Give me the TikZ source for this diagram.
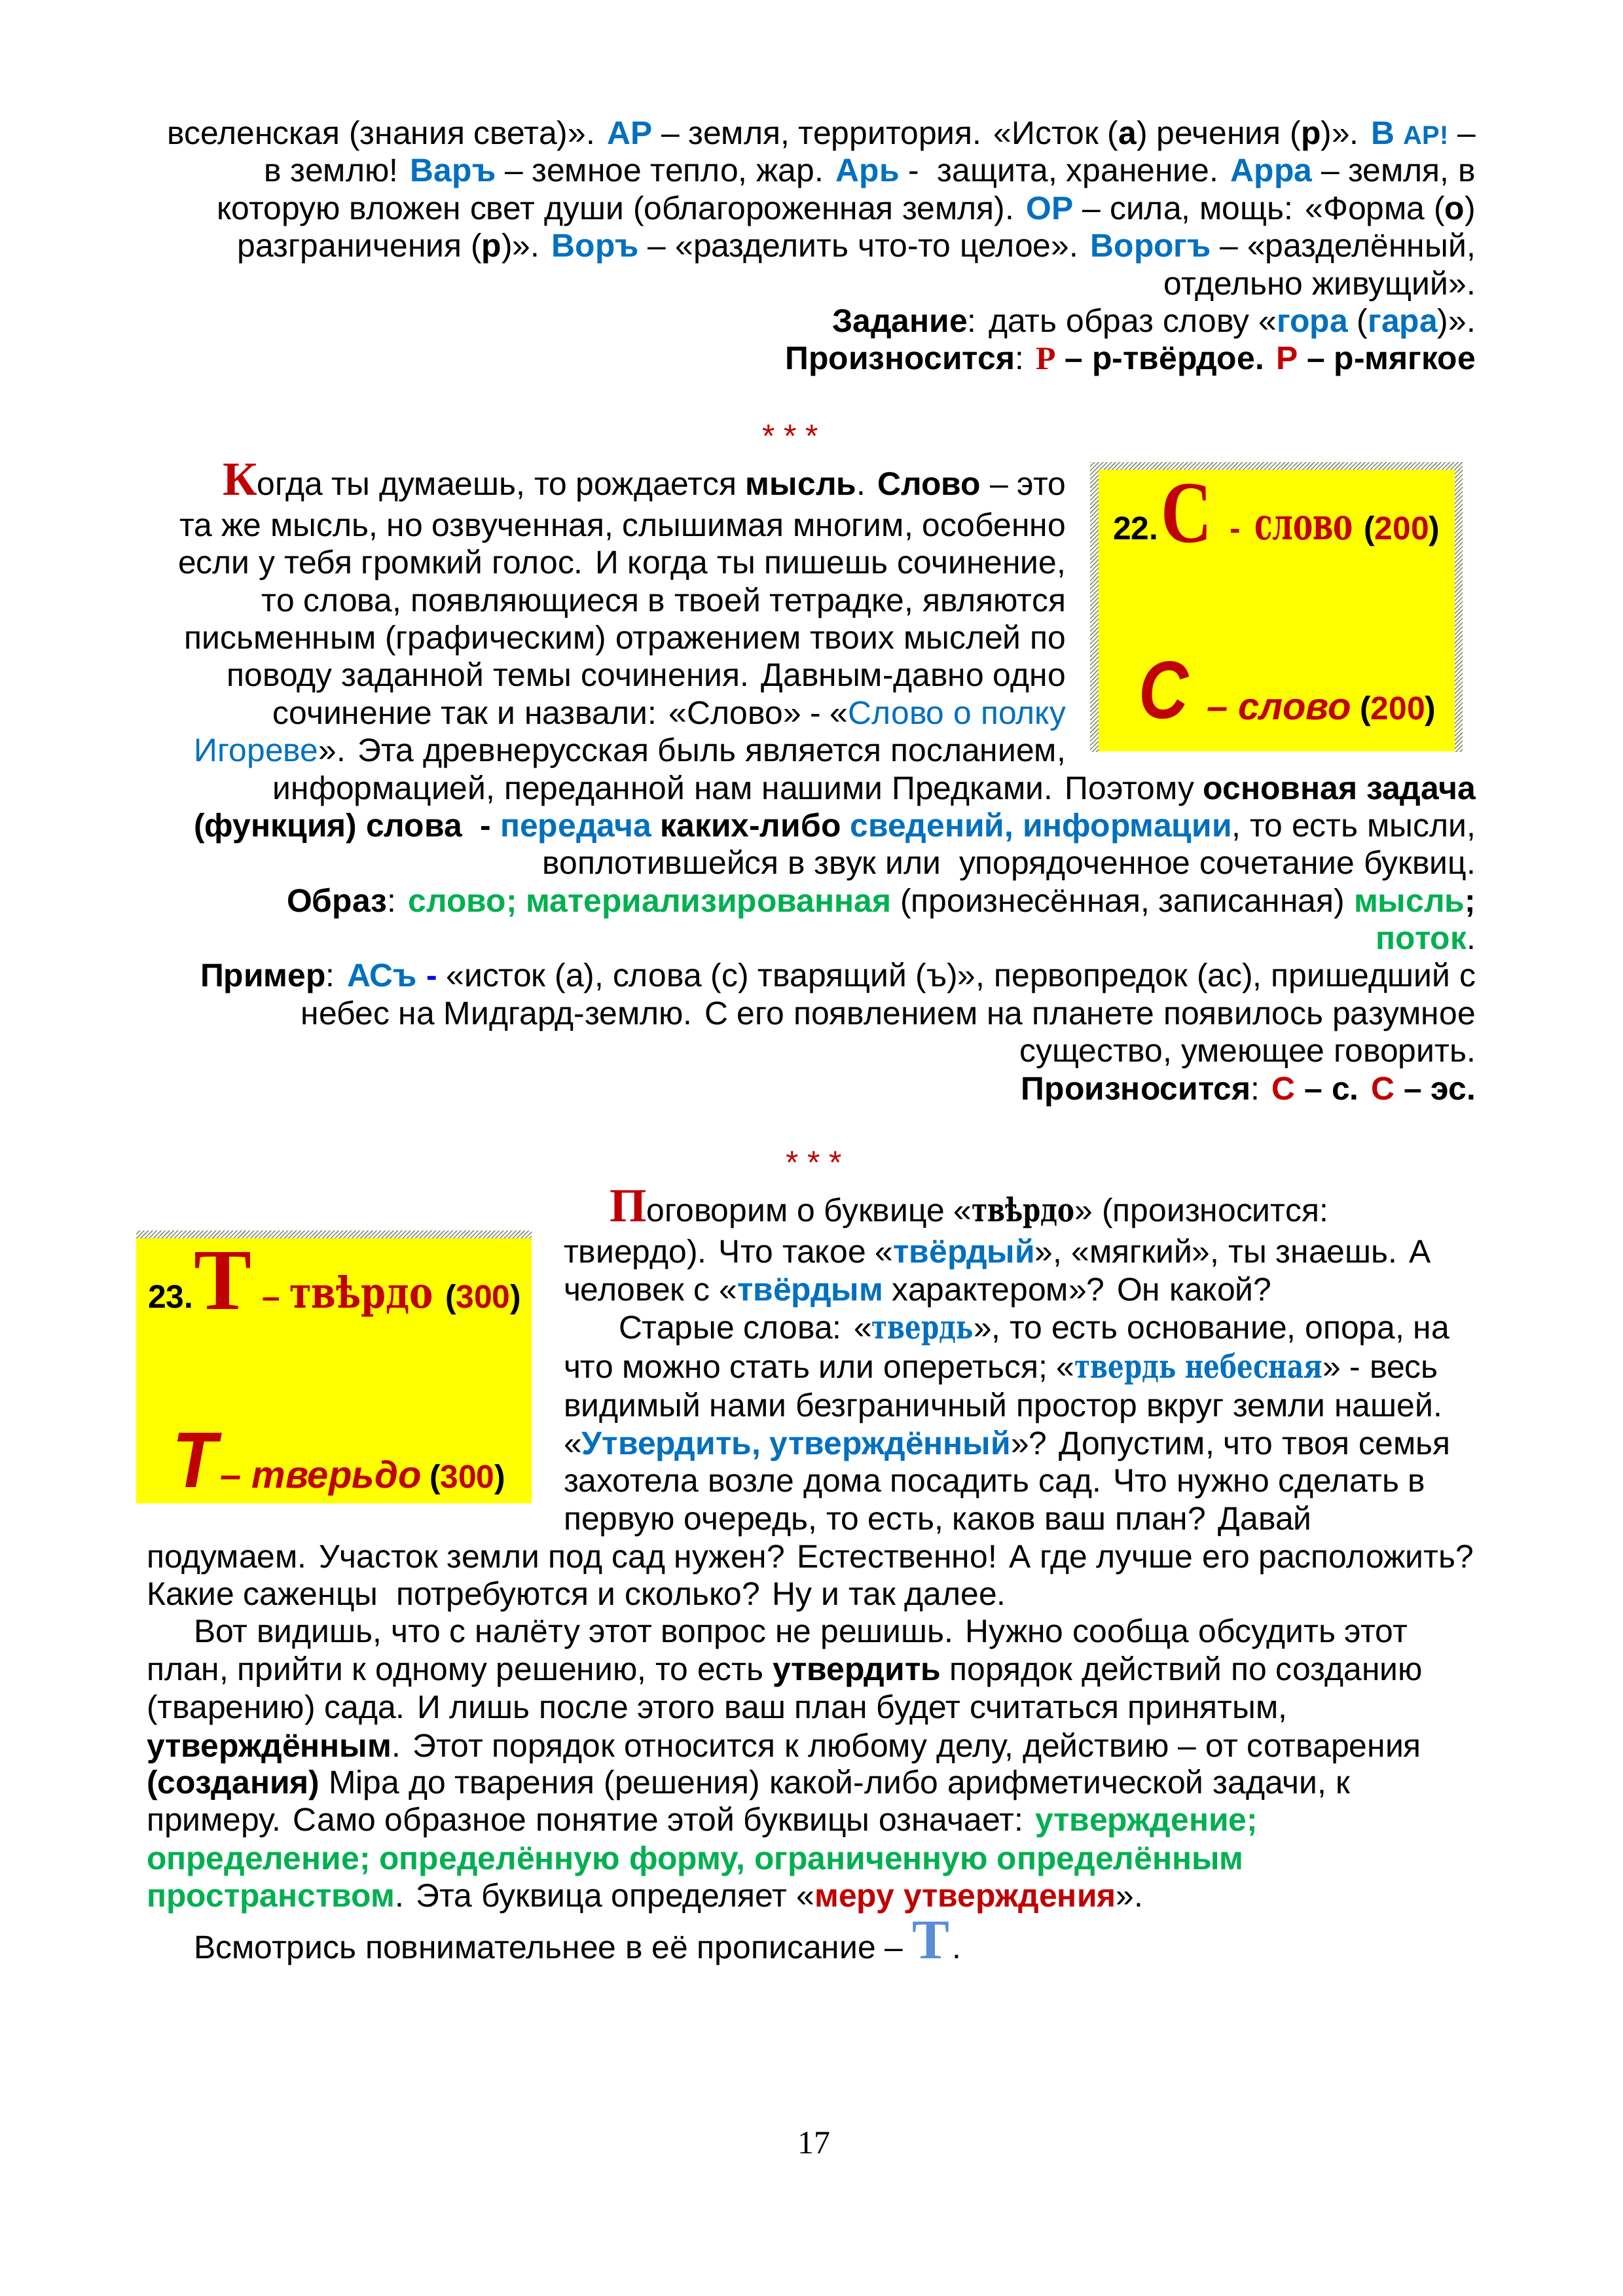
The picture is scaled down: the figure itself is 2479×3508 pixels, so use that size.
\documentclass[tikz,border=0pt]{standalone}
\usepackage{fontspec}
\setmainfont{Liberation Sans}
\newfontfamily\lserif{Liberation Serif}
\newfontfamily\dserif{DejaVu Serif}
\usepackage{graphicx}
\usetikzlibrary{patterns.meta}
\definecolor{myblue}{HTML}{0070C0}
\definecolor{myred}{HTML}{C00000}
\definecolor{mygreen}{HTML}{00B050}
\definecolor{pureblue}{HTML}{0000FF}
\definecolor{lblue}{HTML}{5B8DD6}
\definecolor{hatchc}{HTML}{7E8C62}
\definecolor{myyellow}{HTML}{FFFF00}
\newlength\pxu
\setlength\pxu{0.0846667mm}
\newcommand\myB[1]{\textcolor{myblue}{\bfseries #1}}
\newcommand\myBn[1]{\textcolor{myblue}{#1}}
\newcommand\myG[1]{\textcolor{mygreen}{\bfseries #1}}
\newcommand\myR[1]{\textcolor{myred}{\bfseries #1}}
\newcommand\mySl[1]{\scalebox{0.78}[1]{\dserif\bfseries #1}}
\newcommand\myFit[3]{\resizebox{#1\pxu}{#2\pxu}{#3}}
\tikzset{
  every node/.style={inner sep=0pt,outer sep=0pt,font=\fontsize{12pt}{13.8pt}\selectfont},
  R/.style={anchor=base east},
  L/.style={anchor=base west},
  hatch/.style={pattern={Lines[angle=45,distance=1.1pt,line width=0.35pt]},pattern color=hatchc},
  ybox/.style={fill=myyellow},
  dropcap/.style={text=myred,font={\lserif\bfseries\fontsize{17.5pt}{18pt}\selectfont}},
  stars/.style={text=myred,anchor=base},
}
\begin{document}
\begin{tikzpicture}[x=0.0846667mm,y=-0.0846667mm]
\useasboundingbox (0,0) rectangle (2479,3508);
\fill[white] (0,0) rectangle (2479,3508);

% ---------- section 1 ----------
\node[R] (a1) at (2254,220) {вселенская (знания света)». \myB{АР} – земля, территория. «Исток (\textbf{а}) речения (\textbf{р})». \myB{В {\fontsize{9.6pt}{10pt}\selectfont АР!}} –};
\node[R] (a2) at (2254,277) {в землю! \myB{Варъ} – земное тепло, жар. \myB{Арь} -\ \ защита, хранение. \myB{Арра} – земля, в};
\node[R] (a3) at (2254,335) {которую вложен свет души (облагороженная земля). \myB{ОР} – сила, мощь: «Форма (\textbf{о})};
\node[R] (a4) at (2254,392) {разграничения (\textbf{р})». \myB{Воръ} – «разделить что-то целое». \myB{Ворогъ} – «разделённый,};
\node[R] (a5) at (2254,450) {отдельно живущий».};
\node[R] (a6) at (2254,507) {\textbf{Задание}: дать образ слову «\myB{гора} (\myB{гара})».};
\node[R] (a7) at (2254,564) {\bfseries Произносится\mdseries: \bfseries\textcolor{myred}{\lserif\bfseries Р} – р-твёрдое. \textcolor{myred}{Р} – р-мягкое};

\node[stars] (st1) at (1207,683) {* * *};

% ---------- box 22 ----------
\fill[hatch] (1665,706) rectangle (2234,718);
\fill[hatch] (1665,718) rectangle (1678,1148);
\fill[hatch] (2222,718) rectangle (2234,1148);
\node[ybox,minimum width=544\pxu,minimum height=430\pxu,anchor=north west] (box1) at (1678,718) {};
\node[L,font=\fontsize{12pt}{13.8pt}\selectfont\bfseries] (n22) at (1700,824) {22.};
\node[L,text=myred] (bigS1) at (1773,828) {\myFit{78}{89}{\lserif\bfseries С}};
\node[L,text=myred,font=\fontsize{12pt}{13.8pt}\selectfont\bfseries] (d1) at (1878,824) {-};
\node[L,text=myred] (slovo1) at (1916,824) {\myFit{151}{36}{\dserif\bfseries слово}};
\node[L,font=\fontsize{12pt}{13.8pt}\selectfont\bfseries] (n200a) at (2083,824) {(\textcolor{myred}{200})};
\node[L,text=myred] (bigS2) at (1739,1097) {\myFit{76}{87}{\bfseries\itshape С}};
\node[L,text=myred,font=\fontsize{14pt}{16pt}\selectfont\bfseries\itshape] (slovo2) at (1843,1099) {– слово};
\node[L,font=\fontsize{12pt}{13.8pt}\selectfont\bfseries] (n200b) at (2077,1099) {(\textcolor{myred}{200})};

% ---------- section 2 ----------
\node[R] (b1) at (1628,756) {огда ты думаешь, то рождается \textbf{мысль}. \textbf{Слово} – это};
\node[anchor=base east,dropcap] (dK) at (b1.base west) {К};
\node[R] (b2) at (1628,819) {та же мысль, но озвученная, слышимая многим, особенно};
\node[R] (b3) at (1628,876) {если у тебя громкий голос. И когда ты пишешь сочинение,};
\node[R] (b4) at (1628,934) {то слова, появляющиеся в твоей тетрадке, являются};
\node[R] (b5) at (1628,991) {письменным (графическим) отражением твоих мыслей по};
\node[R] (b6) at (1628,1048) {поводу заданной темы сочинения. Давным-давно одно};
\node[R] (b7) at (1628,1106) {сочинение так и назвали: «Слово» - «\myBn{Слово о полку}};
\node[R] (b8) at (1628,1163) {\myBn{Игореве}». Эта древнерусская быль является посланием,};
\node[R] (b9) at (2254,1221) {информацией, переданной нам нашими Предками. Поэтому \textbf{основная задача}};
\node[R] (b10) at (2254,1278) {\textbf{(функция) слова\ \ -} \myB{передача} \textbf{каких-либо} \myB{сведений, информации}, то есть мысли,};
\node[R] (b11) at (2254,1335) {воплотившейся в звук или\ \ упорядоченное сочетание буквиц.};
\node[R] (b12) at (2254,1393) {\textbf{Образ}: \myG{слово; материализированная} (произнесённая, записанная) \myG{мысль}\textbf{;}};
\node[R] (b13) at (2254,1450) {\myG{поток}.};
\node[R] (b14) at (2254,1507) {\textbf{Пример}: \myB{АСъ} \textcolor{pureblue}{\bfseries -} «исток (а), слова (с) тварящий (ъ)», первопредок (ас), пришедший с};
\node[R] (b15) at (2254,1565) {небес на Мидгард-землю. С его появлением на планете появилось разумное};
\node[R] (b16) at (2254,1622) {существо, умеющее говорить.};
\node[R] (b17) at (2254,1680) {\bfseries Произносится\mdseries: \bfseries\textcolor{myred}{С} – с. \textcolor{myred}{С} – эс.};

\node[stars] (st2) at (1243,1793) {* * *};

% ---------- box 23 ----------
\fill[hatch] (208,1880) rectangle (812,1892);
\node[ybox,minimum width=604\pxu,minimum height=405\pxu,anchor=north west] (box2) at (208,1892) {};
\node[L,font=\fontsize{12pt}{13.8pt}\selectfont\bfseries] (n23) at (226,1998) {23.};
\node[L,text=myred] (bigT1) at (296,2000) {\myFit{88}{87}{\lserif\bfseries Т}};
\node[L,text=myred,font=\fontsize{12pt}{13.8pt}\selectfont\bfseries] (d2) at (400,1998) {–};
\node[L,text=myred] (tverdo1) at (442,1998) {\myFit{220}{50}{\dserif\bfseries твѣрдо}};
\node[L,font=\fontsize{12pt}{13.8pt}\selectfont\bfseries] (n300a) at (680,1998) {(\textcolor{myred}{300})};
\node[L,text=myred] (bigT2) at (263,2272) {\myFit{68}{83}{\bfseries\itshape Т}};
\node[L,text=myred,font=\fontsize{14pt}{16pt}\selectfont\bfseries\itshape] (tverdo2) at (336,2273) {– тверьдо};
\node[L,font=\fontsize{12pt}{13.8pt}\selectfont\bfseries] (n300b) at (656,2273) {(\textcolor{myred}{300})};

% ---------- section 3 ----------
\node[L,dropcap] (dP) at (931,1866) {П};
\node[L] (c1) at (dP.base east) {оговорим о буквице «\mySl{твѣрдо}» (произносится:};
\node[L] (c2) at (861,1929) {твиердо). Что такое «\myB{твёрдый}», «мягкий», ты знаешь. А};
\node[L] (c3) at (861,1987) {человек с «\myB{твёрдым} характером»? Он какой?};
\node[L] (c4) at (945,2045) {Старые слова: «\textcolor{myblue}{\mySl{твердь}}», то есть основание, опора, на};
\node[L] (c5) at (861,2105) {что можно стать или опереться; «\textcolor{myblue}{\mySl{твердь небесная}}» - весь};
\node[L] (c6) at (861,2164) {видимый нами безграничный простор вкруг земли нашей.};
\node[L] (c7) at (861,2222) {«\myB{Утвердить, утверждённый}»? Допустим, что твоя семья};
\node[L] (c8) at (861,2279) {захотела возле дома посадить сад. Что нужно сделать в};
\node[L] (c9) at (861,2337) {первую очередь, то есть, каков ваш план? Давай};
\node[L] (c10) at (224,2395) {подумаем. Участок земли под сад нужен? Естественно! А где лучше его расположить?};
\node[L] (c11) at (224,2452) {Какие саженцы\ \ потребуются и сколько? Ну и так далее.};
\node[L] (c12) at (296,2509) {Вот видишь, что с налёту этот вопрос не решишь. Нужно сообща обсудить этот};
\node[L] (c13) at (224,2567) {план, прийти к одному решению, то есть \textbf{утвердить} порядок действий по созданию};
\node[L] (c14) at (224,2625) {(тварению) сада. И лишь после этого ваш план будет считаться принятым,};
\node[L] (c15) at (224,2684) {\textbf{утверждённым}. Этот порядок относится к любому делу, действию – от сотварения};
\node[L] (c16) at (224,2740) {\textbf{(создания)} Міра до тварения (решения) какой-либо арифметической задачи, к};
\node[L] (c17) at (224,2797) {примеру. Само образное понятие этой буквицы означает: \myG{утверждение;}};
\node[L] (c18) at (224,2856) {\myG{определение; определённую форму, ограниченную определённым}};
\node[L] (c19) at (224,2913) {\myG{пространством}. Эта буквица определяет «\myR{меру утверждения}».};
\node[L] (c20) at (296,2992) {Всмотрись повнимательнее в её прописание –};
\node[L,text=lblue] (bT) at ([xshift=14\pxu]c20.base east) {\myFit{57}{56}{\lserif\bfseries Т}};
\node[L] (c20b) at ([xshift=4\pxu]bT.base east) {.};

\node[anchor=base,font={\lserif\fontsize{12pt}{13.8pt}\selectfont}] (pg) at (1243,3290) {17};
\end{tikzpicture}
\end{document}
